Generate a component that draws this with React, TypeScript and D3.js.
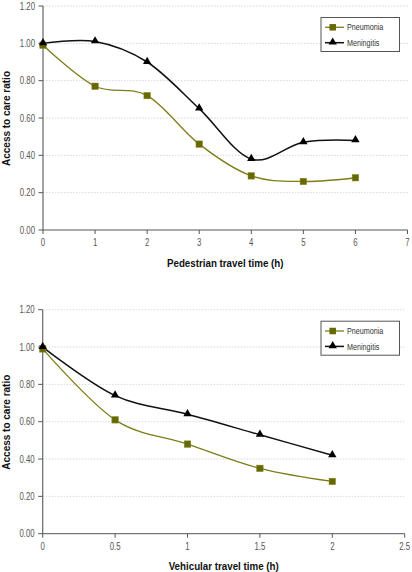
import React from "react";
import * as d3 from "d3";

const pedHours = [0, 1, 2, 3, 4, 5, 6];
const pedPneumonia = [0.99, 0.77, 0.72, 0.46, 0.29, 0.26, 0.28];
const pedMeningitis = [1.0, 1.01, 0.9, 0.65, 0.38, 0.47, 0.48];

const vehHours = [0, 0.5, 1, 1.5, 2];
const vehPneumonia = [0.99, 0.61, 0.48, 0.35, 0.28];
const vehMeningitis = [1.0, 0.74, 0.64, 0.53, 0.42];

const yTicks = [0, 0.2, 0.4, 0.6, 0.8, 1.0, 1.2];
const pedXTicks = [0, 1, 2, 3, 4, 5, 6, 7];
const vehXTicks = [0, 0.5, 1, 1.5, 2, 2.5];

const seriesNames = ["Pneumonia", "Meningitis"];
const yTitle = "Access to care ratio";
const pedTitle = "Pedestrian travel time (h)";
const vehTitle = "Vehicular travel time (h)";

const FONT = "'Liberation Sans', Arial, sans-serif";
const OLIVE = "#686800";
const OLIVE_LINE = "#7d7d18";

type CTProps = {
  x: number;
  y: number;
  sx: number;
  size: number;
  anchor?: string;
  bold?: boolean;
  fill?: string;
  rotate?: boolean;
  dy?: string;
  children: React.ReactNode;
};

function CText({ x, y, sx, size, anchor = "start", bold = false, fill = "#555", rotate = false, dy, children }: CTProps) {
  return (
    <g transform={`translate(${x},${y})${rotate ? " rotate(-90)" : ""} scale(${sx},1)`}>
      <text textAnchor={anchor} dy={dy} fontSize={size} fontWeight={bold ? "bold" : "normal"} fill={fill} fontFamily={FONT}>
        {children}
      </text>
    </g>
  );
}

type PanelProps = {
  xs: number[];
  a: number[];
  b: number[];
  xTicks: number[];
  xMax: number;
  x0: number;
  x1: number;
  yBottom: number;
  yTop: number;
  title: string;
};

function Panel({ xs, a, b, xTicks, xMax, x0, x1, yBottom, yTop, title }: PanelProps) {
  const x = d3.scaleLinear().domain([0, xMax]).range([x0, x1]);
  const y = d3.scaleLinear().domain([0, 1.2]).range([yBottom, yTop]);
  const line = d3
    .line<[number, number]>()
    .x((d) => x(d[0]))
    .y((d) => y(d[1]))
    .curve(d3.curveCardinal.tension(0));
  const pa = xs.map((v, i) => [v, a[i]] as [number, number]);
  const pb = xs.map((v, i) => [v, b[i]] as [number, number]);
  const tri = d3.symbol().type(d3.symbolTriangle).size(30);
  const fmt = d3.format(".2f");
  const lx = 321;
  const ly = yTop + 11.5;
  const sq = 6.5;
  return (
    <g>
      {yTicks.filter((t) => t > 0).map((t) => (
        <line key={"g" + t} x1={x0} x2={x1} y1={y(t)} y2={y(t)} stroke="#cfcfcf" strokeWidth={0.8} strokeDasharray="1.5,1.5" />
      ))}
      {yTicks.map((t) => (
        <g key={"yt" + t}>
          <line x1={x0 - 4.5} x2={x0} y1={y(t)} y2={y(t)} stroke="#555" />
          <CText x={x0 - 8} y={y(t)} dy="0.35em" anchor="end" sx={0.78} size={10}>
            {fmt(t)}
          </CText>
        </g>
      ))}
      {xTicks.map((t) => (
        <g key={"xt" + t}>
          <line x1={x(t)} x2={x(t)} y1={yBottom} y2={yBottom + 4} stroke="#555" />
          <CText x={x(t)} y={yBottom + 16} anchor="middle" sx={0.78} size={10}>
            {String(t)}
          </CText>
        </g>
      ))}
      <line x1={x0} x2={x0} y1={yTop} y2={yBottom} stroke="#666" strokeWidth={1.2} />
      <line x1={x0} x2={x1} y1={yBottom} y2={yBottom} stroke="#555" strokeWidth={1} />
      <CText x={10} y={(yTop + yBottom) / 2 + 0.5} rotate anchor="middle" sx={0.87} size={11.5} bold fill="#111">
        {yTitle}
      </CText>
      <CText x={(x0 + x1) / 2} y={yBottom + 36.5} anchor="middle" sx={0.85} size={11.5} bold fill="#111">
        {title}
      </CText>
      <path d={line(pa) || ""} fill="none" stroke={OLIVE_LINE} strokeWidth={1.3} />
      <path d={line(pb) || ""} fill="none" stroke="#111" strokeWidth={1.5} />
      {pa.map((d, i) => (
        <rect key={"s" + i} x={x(d[0]) - sq / 2} y={y(d[1]) - sq / 2} width={sq} height={sq} fill={OLIVE} stroke="#8a8a30" strokeWidth={0.5} />
      ))}
      {pb.map((d, i) => (
        <path key={"t" + i} d={tri() || ""} transform={`translate(${x(d[0])},${y(d[1]) - 0.5})`} fill="#000" />
      ))}
      <rect x={lx} y={ly} width={78.5} height={34} fill="#fff" stroke="#555" strokeWidth={1} />
      <line x1={lx + 4} x2={lx + 23} y1={ly + 9.8} y2={ly + 9.8} stroke={OLIVE_LINE} strokeWidth={1.3} />
      <rect x={lx + 11.7 - sq / 2} y={ly + 9.8 - sq / 2} width={sq} height={sq} fill={OLIVE} />
      <CText x={lx + 26} y={ly + 9.8} dy="0.35em" sx={0.8} size={9} fill="#333">
        {seriesNames[0]}
      </CText>
      <line x1={lx + 4} x2={lx + 23} y1={ly + 25.2} y2={ly + 25.2} stroke="#111" strokeWidth={1.5} />
      <path d={tri() || ""} transform={`translate(${lx + 11.7},${ly + 24.7})`} fill="#000" />
      <CText x={lx + 26} y={ly + 25.2} dy="0.35em" sx={0.8} size={9} fill="#333">
        {seriesNames[1]}
      </CText>
    </g>
  );
}

export default function App() {
  return (
    <svg width={412} height={572} style={{ position: "absolute", left: 0, top: 0, background: "#fff" }}>
      <Panel xs={pedHours} a={pedPneumonia} b={pedMeningitis} xTicks={pedXTicks} xMax={7} x0={43} x1={407.5} yBottom={230} yTop={6} title={pedTitle} />
      <Panel xs={vehHours} a={vehPneumonia} b={vehMeningitis} xTicks={vehXTicks} xMax={2.5} x0={42.7} x1={404.7} yBottom={533.7} yTop={309.7} title={vehTitle} />
    </svg>
  );
}
